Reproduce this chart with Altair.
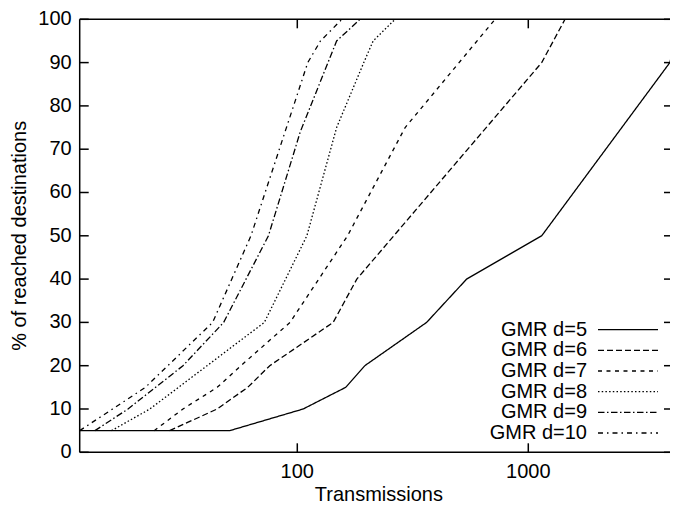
import altair as alt
import pandas as pd
import math

# ---- data ----
labels = ["GMR d=5", "GMR d=6", "GMR d=7", "GMR d=8", "GMR d=9", "GMR d=10"]

d5_x = [11.43, 51, 106, 162, 196, 363, 541, 1143, 4100, 4580]
d5_y = [5, 5, 10, 15, 20, 30, 40, 50, 90, 100]

d6_x = [28, 45, 61, 76, 143, 181, 1143, 1442]
d6_y = [5, 10, 15, 20, 30, 40, 90, 100]

d7_x = [24, 32, 45, 57, 93, 165, 293, 718]
d7_y = [5, 10, 15, 20, 30, 50, 75, 100]

d8_x = [15.7, 23, 72, 110, 148, 194, 213, 265]
d8_y = [5, 10, 30, 50, 75, 90, 95, 100]

d9_x = [13.3, 18.5, 32, 48, 75, 103, 148, 187]
d9_y = [5, 10, 20, 30, 50, 74, 95, 100]

d10_x = [11.43, 22, 43, 63, 111, 126, 156]
d10_y = [5, 15, 30, 50, 90, 95, 100]

x_ticks = [100, 1000]
y_ticks = [0, 10, 20, 30, 40, 50, 60, 70, 80, 90, 100]
x_title = "Transmissions"
y_title = "% of reached destinations"

series_x = [d5_x, d6_x, d7_x, d8_x, d9_x, d10_x]
series_y = [d5_y, d6_y, d7_y, d8_y, d9_y, d10_y]

rows = []
for lab, xs, ys in zip(labels, series_x, series_y):
    for i, (xv, yv) in enumerate(zip(xs, ys)):
        rows.append({"series": lab, "tx": xv, "pct": yv, "ord": i})
df = pd.DataFrame(rows)

# ---- layout / styles ----
dashes = [[1, 0], [6, 3], [4, 4.5], [1.5, 2.2], [6.5, 2.5, 1.5, 2.5], [5, 4, 1.5, 4]]
FONT = "Liberation Sans"
FS = 20
PAD_L, PAD_T = 71.7, 11.3
W, H = 590.3, 433
PX_PER_DECADE = 231.0
X_MIN = 11.43
X_MAX = 10 ** (math.log10(X_MIN) + W / PX_PER_DECADE)
REF_W = 598.3  # reference plot width (right part falls off the page)

xscale = alt.Scale(type="log", domain=[X_MIN, X_MAX], nice=False)
yscale = alt.Scale(domain=[0, 100], nice=False, zero=False)

lines = alt.Chart(df).mark_line(color="black", strokeWidth=1.3, clip=True).encode(
    x=alt.X("tx:Q", scale=xscale, axis=None),
    y=alt.Y("pct:Q", scale=yscale, axis=None),
    strokeDash=alt.StrokeDash("series:N", scale=alt.Scale(domain=labels, range=dashes), legend=None),
    detail="series:N",
    order="ord:Q",
)

yt = pd.DataFrame({"v": y_ticks})
xt = pd.DataFrame({"v": x_ticks})
one = pd.DataFrame({"a": [0]})

RULE = dict(color="black", strokeWidth=1.5)

left_ticks = alt.Chart(yt).mark_rule(**RULE).encode(
    y=alt.Y("v:Q", scale=yscale, axis=None), x=alt.value(0), x2=alt.value(9))
right_ticks = alt.Chart(yt).mark_rule(**RULE).encode(
    y=alt.Y("v:Q", scale=yscale, axis=None), x=alt.value(W - 6), x2=alt.value(W))
bottom_ticks = alt.Chart(xt).mark_rule(**RULE).encode(
    x=alt.X("v:Q", scale=xscale, axis=None), y=alt.value(H), y2=alt.value(H - 9))
top_ticks = alt.Chart(xt).mark_rule(**RULE).encode(
    x=alt.X("v:Q", scale=xscale, axis=None), y=alt.value(0), y2=alt.value(9))

top_border = alt.Chart(one).mark_rule(**RULE).encode(
    x=alt.value(0), x2=alt.value(W), y=alt.value(0))
bottom_border = alt.Chart(one).mark_rule(**RULE).encode(
    x=alt.value(0), x2=alt.value(W), y=alt.value(H))
left_border = alt.Chart(one).mark_rule(**RULE).encode(
    x=alt.value(0), y=alt.value(0), y2=alt.value(H))

y_labels = alt.Chart(yt).mark_text(align="right", baseline="middle", font=FONT,
                                   fontSize=FS, color="black").encode(
    y=alt.Y("v:Q", scale=yscale, axis=None), x=alt.value(-8), text="v:Q")
x_labels = alt.Chart(xt).mark_text(align="center", baseline="top", font=FONT,
                                   fontSize=FS, color="black").encode(
    x=alt.X("v:Q", scale=xscale, axis=None), y=alt.value(H + 9.5), text=alt.Text("v:Q", format="d"))

x_title_mark = alt.Chart(pd.DataFrame({"t": [x_title]})).mark_text(
    align="center", baseline="alphabetic", font=FONT, fontSize=FS, color="black").encode(
    text="t:N", x=alt.value(REF_W / 2), y=alt.value(H + 49))
y_title_mark = alt.Chart(pd.DataFrame({"t": [y_title]})).mark_text(
    align="center", baseline="alphabetic", font=FONT, fontSize=FS, color="black", angle=270).encode(
    text="t:N", x=alt.value(-53.7), y=alt.value(H / 2))

layers = [lines, left_ticks, right_ticks, bottom_ticks, top_ticks,
          top_border, bottom_border, left_border, y_labels, x_labels,
          x_title_mark, y_title_mark]

# legend (label left of sample, as in gnuplot)
row0, step = 310.4, 20.66
for i, lab in enumerate(labels):
    ld = pd.DataFrame({"series": [lab]})
    yy = row0 + i * step
    txt = alt.Chart(ld).mark_text(align="right", baseline="middle", font=FONT,
                                  fontSize=FS, color="black").encode(
        text="series:N", x=alt.value(507.3), y=alt.value(yy))
    smp = alt.Chart(ld).mark_rule(color="black", strokeWidth=1.3, strokeDash=dashes[i]).encode(
        x=alt.value(518.3), x2=alt.value(578.3), y=alt.value(yy))
    layers += [txt, smp]

chart = alt.layer(*layers).properties(
    width=W, height=H,
    padding={"left": PAD_L, "top": PAD_T, "right": 0, "bottom": 57},
    autosize=alt.AutoSizeParams(type="none"),
).configure_view(stroke=None)

chart.save("out.html", embed_options={"renderer": "svg", "actions": False})
